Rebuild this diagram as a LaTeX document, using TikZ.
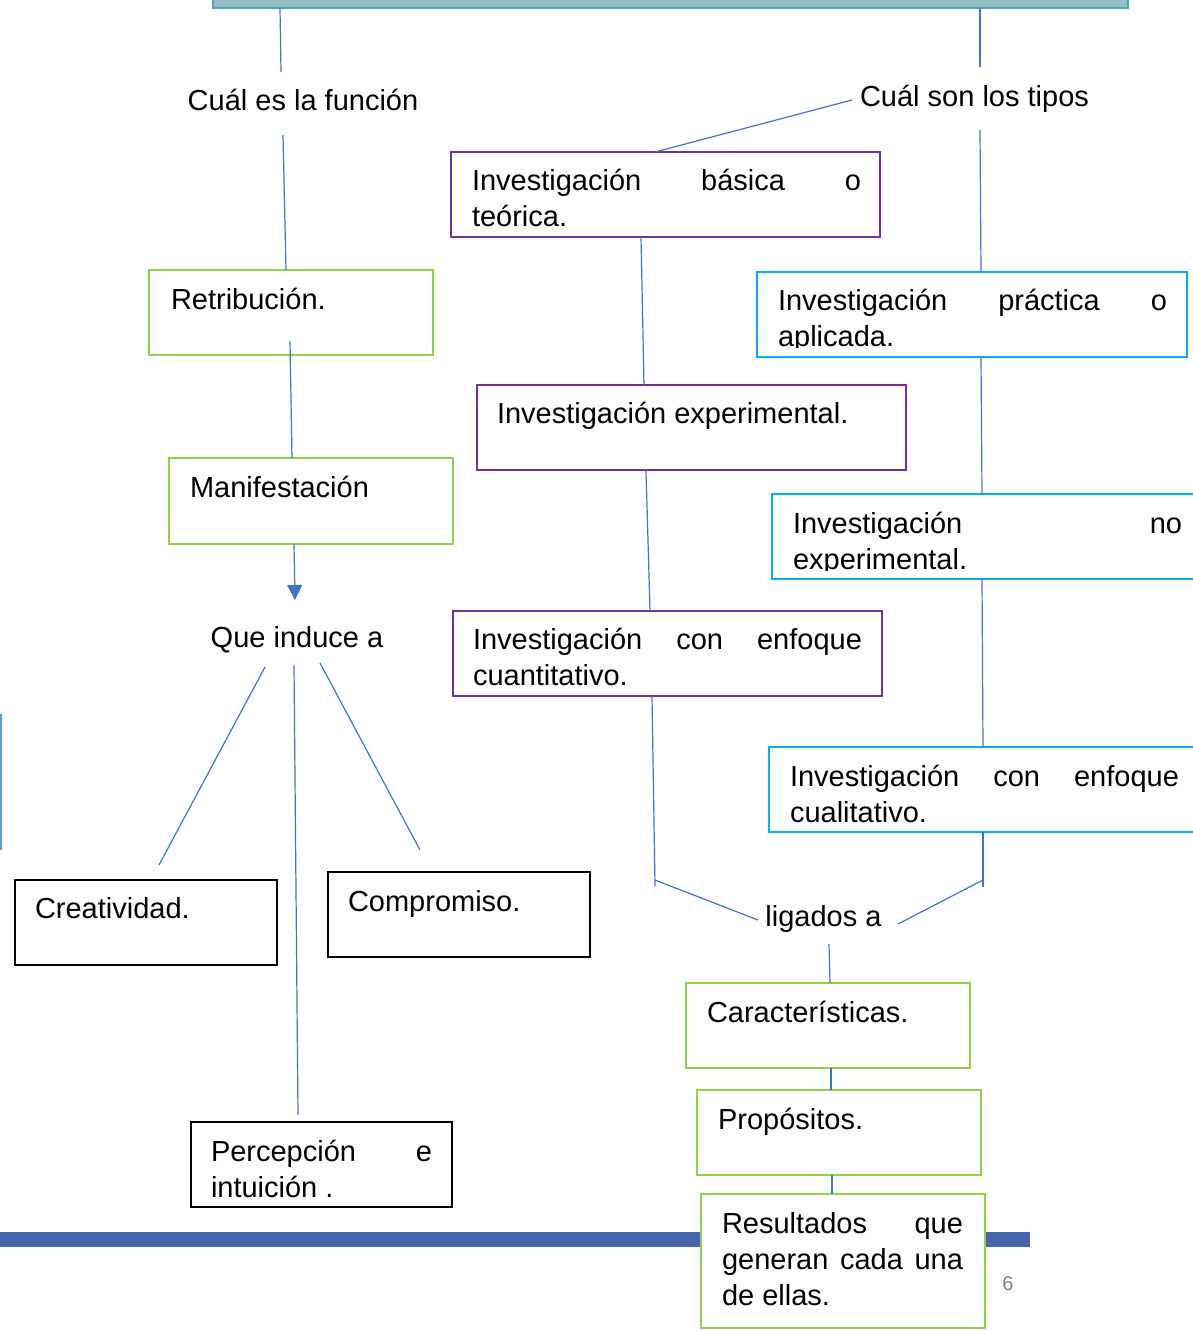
\documentclass[tikz,border=0pt]{standalone}
\usepackage{fontspec}
\setmainfont{Liberation Sans}
\usetikzlibrary{arrows.meta,calc}
\definecolor{conn}{RGB}{68,114,196}
\definecolor{grn}{RGB}{146,208,80}
\definecolor{purp}{RGB}{112,48,160}
\definecolor{cyn}{RGB}{0,176,240}
\definecolor{barblue}{RGB}{71,101,173}
\definecolor{tealfill}{RGB}{147,191,199}
\definecolor{tealdraw}{RGB}{75,165,180}
\definecolor{sideblue}{RGB}{91,155,213}
\tikzset{
  txt/.style={anchor=base west, inner sep=0pt, outer sep=0pt, font=\fontsize{29}{36}\selectfont},
  ctxt/.style={anchor=base, inner sep=0pt, outer sep=0pt, font=\fontsize{29}{36}\selectfont},
  boxbase/.style={draw, rectangle, anchor=north west, inner sep=0pt, outer sep=0pt, minimum height=85pt},
  gbox/.style={boxbase, draw=grn, line width=2.6pt, minimum width=284pt},
  pbox/.style={boxbase, draw=purp, line width=1.4pt, minimum width=429pt},
  cbox/.style={boxbase, draw=cyn, line width=1.4pt, minimum width=430pt},
  kbox/.style={boxbase, draw=black, line width=1.3pt, minimum width=262pt},
  link/.style={draw=conn, line width=1.2pt},
}
\begin{document}
\begin{tikzpicture}[x=1pt,y=-1pt]
\useasboundingbox (0,0) rectangle (1193,1331);

% top bar
\node[draw=tealdraw, fill=tealfill, line width=1.5pt, rectangle, anchor=north west, inner sep=0pt, outer sep=0pt,
      minimum width=915pt, minimum height=14pt] (bar) at (213,-6) {};

% side line
\coordinate (s1) at (1,714);
\coordinate (s2) at (1,850);
\draw[sideblue, line width=2pt] (s1) -- (s2);

% bottom bar
\node[fill=barblue, rectangle, anchor=north west, inner sep=0pt, outer sep=0pt,
      minimum width=1030pt, minimum height=15pt] (bbar) at (0,1232) {};

% page number
\node[anchor=base, inner sep=0pt, text=gray, font=\fontsize{20}{24}\selectfont] (pnum) at (1008,1290) {6};

% free text labels
\node[ctxt] (tfun) at (303,110) {Cuál es la función};
\node[ctxt] (ttipos) at (974.5,106) {Cuál son los tipos};
\node[ctxt] (tque) at (297,647) {Que induce a};
\node[ctxt] (tlig) at (823.5,926) {ligados a};

% boxes
\node[gbox] (retrib) at (149,270) {};
\node[txt] (tretrib) at (171,309) {Retribución.};
\node[gbox, minimum height=86pt] (manif) at (169,458) {};
\node[txt] (tmanif) at (190,497) {Manifestación};

\node[kbox] (creat) at (15,880) {};
\node[txt] (tcreat) at (35,918) {Creatividad.};
\node[kbox] (compr) at (328,872) {};
\node[txt] (tcompr) at (348,911) {Compromiso.};
\node[kbox, minimum width=261pt] (percep) at (191,1122) {};
\node[txt] (tpercep) at (211,1161) {\parbox[t]{221pt}{Percepción\hfill e\\intuición .}};

\node[pbox] (basica) at (451,152) {};
\node[txt] (tbasica) at (472,190) {\parbox[t]{389pt}{Investigación\hfill básica\hfill o\\teórica.}};
\node[pbox] (exper) at (477,385) {};
\node[txt] (texper) at (497,423) {Investigación experimental.};
\node[pbox] (cuant) at (453,611) {};
\node[txt] (tcuant) at (473,649) {\parbox[t]{389pt}{Investigación\hfill con\hfill enfoque\\cuantitativo.}};

\node[cbox] (pract) at (757,272) {};
\begin{scope}
\clip (757,272) rectangle (1193,347.5);
\node[txt] (tpract) at (778,310) {\parbox[t]{389pt}{Investigación\hfill práctica\hfill o\\aplicada.}};
\end{scope}
\node[cbox] (noexp) at (772,494) {};
\begin{scope}
\clip (772,494) rectangle (1193,570.5);
\node[txt] (tnoexp) at (793,533) {\parbox[t]{389pt}{Investigación\hfill no\\experimental.}};
\end{scope}
\node[cbox] (cuali) at (769,747) {};
\node[txt] (tcuali) at (790,786) {\parbox[t]{389pt}{Investigación\hfill con\hfill enfoque\\cualitativo.}};

\node[gbox] (carac) at (686,983) {};
\node[txt] (tcarac) at (707,1022) {Características.};
\node[gbox] (prop) at (697,1090) {};
\node[txt] (tprop) at (718,1129) {Propósitos.};
\node[gbox, fill=white, minimum height=134pt] (result) at (701,1194) {};
\node[txt] (tresult) at (722,1233) {\parbox[t]{241pt}{Resultados\hfill que\\generan\hfill cada\hfill una\\de ellas.}};

% free coordinates
\coordinate (c1) at (281,72);
\coordinate (c2) at (980,67);
\coordinate (c3) at (283,135);
\coordinate (c4) at (852,100);
\coordinate (c5) at (980,130);
\coordinate (c6) at (295,600);
\coordinate (c7) at (265,667);
\coordinate (c8) at (159,865);
\coordinate (c9) at (294,665);
\coordinate (c10) at (320,663);
\coordinate (c11) at (420,850);
\coordinate (c12) at (655,886);
\coordinate (c13) at (655,880);
\coordinate (c14) at (758,920);
\coordinate (c15) at (983,887);
\coordinate (c16) at (983,880);
\coordinate (c17) at (898,924);
\coordinate (c18) at (829,944);

% connectors
\draw[link] ([xshift=-390.5pt]bar.south) -- (c1);
\draw[link] ([xshift=309.5pt]bar.south) -- (c2);
\draw[link] (c3) -- ([xshift=-5pt]retrib.north);
\draw[link] (c4) -- ([xshift=-10.5pt]basica.north);
\draw[link] (c5) -- ([xshift=9pt]pract.north);
\draw[link] ([xshift=-1pt,yshift=14pt]retrib.south) -- ([xshift=-19pt]manif.north);
\draw[link, -{Triangle[width=15pt,length=15pt]}] ([xshift=-17pt]manif.south) -- (c6);
\draw[link] (c7) -- (c8);
\draw[link] (c9) -- ([xshift=-23.5pt,yshift=7pt]percep.north);
\draw[link] (c10) -- (c11);
\draw[link] ([xshift=-24.5pt]basica.south) -- ([xshift=-47.5pt]exper.north);
\draw[link] ([xshift=-45.5pt]exper.south) -- ([xshift=-17.5pt]cuant.north);
\draw[link] ([xshift=-15.5pt]cuant.south) -- (c12);
\draw[link] (c13) -- (c14);
\draw[link] ([xshift=9pt]pract.south) -- ([xshift=-5pt]noexp.north);
\draw[link] ([xshift=-5pt]noexp.south) -- ([xshift=-1pt]cuali.north);
\draw[link] ([xshift=-1pt]cuali.south) -- (c15);
\draw[link] (c16) -- (c17);
\draw[link] (c18) -- ([xshift=2pt]carac.north);
\draw[link] ([xshift=3pt]carac.south) -- ([xshift=-8pt]prop.north);
\draw[link] ([xshift=-7pt]prop.south) -- ([xshift=-11pt]result.north);
\end{tikzpicture}
\end{document}
